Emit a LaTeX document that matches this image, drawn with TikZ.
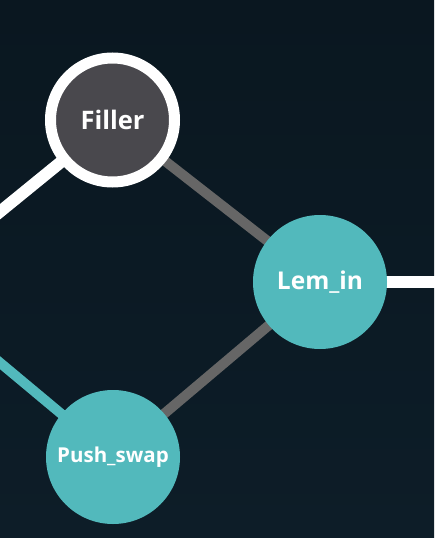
\documentclass[tikz,border=0pt]{standalone}
\usepackage{fontspec}
\setmainfont{Open Sans}
\usetikzlibrary{backgrounds}
\definecolor{bgtop}{RGB}{10,23,32}
\definecolor{bgbot}{RGB}{13,29,40}
\definecolor{tealc}{RGB}{82,185,188}
\definecolor{darkc}{RGB}{73,72,77}
\definecolor{grayl}{RGB}{102,102,102}
\tikzset{
  every node/.style={inner sep=0pt, outer sep=0pt, text=white, font=\bfseries},
  tealnode/.style={circle, fill=tealc, minimum size=134pt},
  ringnode/.style={circle, fill=darkc, draw=white, line width=11pt, minimum size=124pt},
  grayedge/.style={draw=grayl, line width=10pt},
  whiteedge/.style={draw=white, line width=12pt},
  tealedge/.style={draw=tealc, line width=10pt},
}
\begin{document}
\begin{tikzpicture}[x=1pt,y=-1pt]
\useasboundingbox (0,0) rectangle (434,538);
\node[ringnode] (filler) at (112.5,120) {\fontsize{25.5}{30}\selectfont Filler};
\node[tealnode] (lemin) at (320,282) {\fontsize{24.5}{29}\selectfont Lem\_in};
\node[tealnode] (push) at (113,457) {\fontsize{20.5}{24}\selectfont Push\_swap};
\coordinate (offl) at (-20,228);
\coordinate (offr) at (454,282);
\coordinate (offp) at (-20,346);
\begin{pgfonlayer}{background}
  \shade[top color=bgtop, bottom color=bgbot] (0,0) rectangle (434,538);
  \draw[grayedge] (filler.center) -- (lemin.center);
  \draw[grayedge] (push.center) -- (lemin.center);
  \draw[whiteedge] (filler.center) -- (offl);
  \draw[whiteedge] (lemin.center) -- (offr);
  \draw[tealedge] (push.center) -- (offp);
\end{pgfonlayer}
\end{tikzpicture}
\end{document}
